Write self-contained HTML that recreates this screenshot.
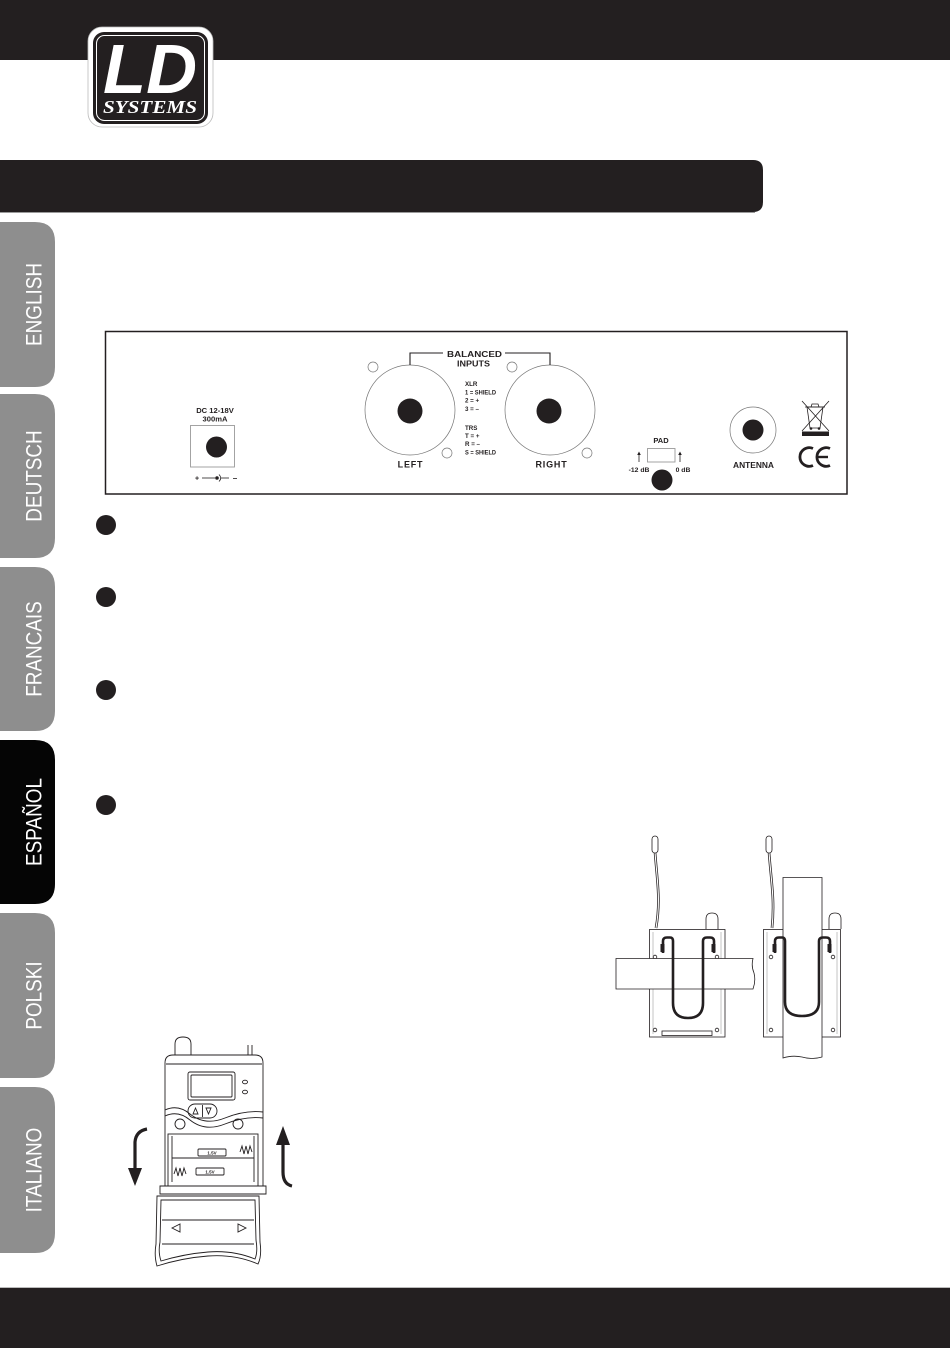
<!DOCTYPE html>
<html>
<head>
<meta charset="utf-8">
<style>
html,body{margin:0;padding:0;background:#fff;}
body{width:950px;height:1348px;overflow:hidden;position:relative;}
svg{position:absolute;left:0;top:0;}
</style>
</head>
<body>
<svg width="950" height="1348" viewBox="0 0 950 1348" xmlns="http://www.w3.org/2000/svg" font-family="Liberation Sans, Arial, sans-serif">
  <!-- top bar -->
  <rect x="0" y="0" width="950" height="60" fill="#231f20"/>
  <!-- logo -->
  <rect x="88" y="27" width="125" height="100" rx="14" fill="#fff" stroke="#bbb" stroke-width="0.8"/>
  <rect x="93" y="32" width="115" height="92" rx="11" fill="#231f20"/>
  <rect x="96.5" y="35.5" width="108" height="85" rx="8" fill="none" stroke="#fff" stroke-width="1"/>
  <text x="103" y="93" font-size="70" font-weight="bold" font-style="italic" fill="#fff" textLength="94" lengthAdjust="spacingAndGlyphs">LD</text>
  <text x="103" y="113" font-family="Liberation Serif, serif" font-size="18" font-weight="bold" font-style="italic" fill="#fff" textLength="94" lengthAdjust="spacingAndGlyphs">SYSTEMS</text>

  <!-- title bar -->
  <path d="M0,160 L753,160 Q763,160 763,170 L763,202 Q763,212 753,212 L0,212 Z" fill="#231f20"/>
  <line x1="0" y1="212.5" x2="755" y2="212.5" stroke="#9a9a9a" stroke-width="1"/>

  <!-- side tabs -->
  <g fill="#8e8e8e">
    <path d="M0,222 L35,222 Q55,222 55,242 L55,367 Q55,387 35,387 L0,387 Z"/>
    <path d="M0,394 L35,394 Q55,394 55,414 L55,538 Q55,558 35,558 L0,558 Z"/>
    <path d="M0,567 L35,567 Q55,567 55,587 L55,711 Q55,731 35,731 L0,731 Z"/>
    <path d="M0,913 L35,913 Q55,913 55,933 L55,1058 Q55,1078 35,1078 L0,1078 Z"/>
    <path d="M0,1087 L35,1087 Q55,1087 55,1107 L55,1233 Q55,1253 35,1253 L0,1253 Z"/>
  </g>
  <path d="M0,740 L35,740 Q55,740 55,760 L55,884 Q55,904 35,904 L0,904 Z" fill="#050505"/>
  <g fill="#fff" font-size="22" text-anchor="middle">
    <text transform="translate(41.5,304.5) rotate(-90) scale(0.86,1)">ENGLISH</text>
    <text transform="translate(41.5,476) rotate(-90) scale(0.86,1)">DEUTSCH</text>
    <text transform="translate(41.5,649) rotate(-90) scale(0.86,1)">FRANCAIS</text>
    <text transform="translate(41.5,822) rotate(-90) scale(0.86,1)">ESPAÑOL</text>
    <text transform="translate(41.5,995.5) rotate(-90) scale(0.86,1)">POLSKI</text>
    <text transform="translate(41.5,1170) rotate(-90) scale(0.86,1)">ITALIANO</text>
  </g>

  <!-- rear panel -->
  <rect x="105.5" y="331.5" width="741.5" height="162.5" fill="#fff" stroke="#231f20" stroke-width="1.5"/>
  <g fill="#231f20" font-weight="bold">
    <!-- DC -->
    <text x="215" y="413" font-size="7.6" text-anchor="middle">DC 12-18V</text>
    <text x="215" y="421.5" font-size="7.6" text-anchor="middle">300mA</text>
    <rect x="190.5" y="425.5" width="44" height="41.5" fill="none" stroke="#9a9a9a" stroke-width="0.9"/>
    <circle cx="216.5" cy="447" r="10.5"/>
    <text x="197" y="480.5" font-size="7" text-anchor="middle">+</text>
    <line x1="202" y1="478" x2="215" y2="478" stroke="#231f20" stroke-width="0.8"/>
    <circle cx="217" cy="478" r="1.8"/>
    <path d="M219,474.5 Q222.5,478 219,481.5" fill="none" stroke="#231f20" stroke-width="0.8"/>
    <line x1="221" y1="478" x2="229" y2="478" stroke="#231f20" stroke-width="0.8"/>
    <line x1="233" y1="478.5" x2="237" y2="478.5" stroke="#231f20" stroke-width="0.8"/>

    <!-- XLR left -->
    <circle cx="410" cy="410" r="45" fill="none" stroke="#777" stroke-width="0.7"/>
    <circle cx="410" cy="411" r="12.5"/>
    <circle cx="373" cy="367" r="5" fill="none" stroke="#777" stroke-width="0.7"/>
    <circle cx="447" cy="453" r="5" fill="none" stroke="#777" stroke-width="0.7"/>
    <text x="410.5" y="467.5" font-size="9" text-anchor="middle" letter-spacing="0.8">LEFT</text>
    <!-- XLR right -->
    <circle cx="550" cy="410" r="45" fill="none" stroke="#777" stroke-width="0.7"/>
    <circle cx="549" cy="411" r="12.5"/>
    <circle cx="512" cy="367" r="5" fill="none" stroke="#777" stroke-width="0.7"/>
    <circle cx="587" cy="453" r="5" fill="none" stroke="#777" stroke-width="0.7"/>
    <text x="551.5" y="467.5" font-size="9" text-anchor="middle" letter-spacing="0.8">RIGHT</text>

    <!-- bracket -->
    <path d="M410,365 L410,353 L443,353" fill="none" stroke="#231f20" stroke-width="1.1"/>
    <path d="M505,353 L550,353 L550,365" fill="none" stroke="#231f20" stroke-width="1.1"/>
    <text x="474.5" y="357" font-size="8.6" text-anchor="middle" textLength="55" lengthAdjust="spacingAndGlyphs">BALANCED</text>
    <text x="473.5" y="366.5" font-size="8.6" text-anchor="middle" textLength="33" lengthAdjust="spacingAndGlyphs">INPUTS</text>

    <!-- pinout -->
    <g font-size="6.2">
      <text x="465" y="386">XLR</text>
      <text x="465" y="394.5" textLength="31" lengthAdjust="spacingAndGlyphs">1 = SHIELD</text>
      <text x="465" y="402.5">2 = +</text>
      <text x="465" y="411">3 = –</text>
      <text x="465" y="430">TRS</text>
      <text x="465" y="438">T = +</text>
      <text x="465" y="446">R = –</text>
      <text x="465" y="454.5" textLength="31" lengthAdjust="spacingAndGlyphs">S = SHIELD</text>
    </g>

    <!-- PAD -->
    <text x="661" y="443" font-size="7.5" text-anchor="middle">PAD</text>
    <rect x="647.5" y="448.5" width="27.5" height="13.5" fill="none" stroke="#9a9a9a" stroke-width="0.9"/>
    <line x1="639" y1="462" x2="639" y2="454" stroke="#231f20" stroke-width="0.8"/>
    <path d="M637.2,455 L639,451.5 L640.8,455 Z"/>
    <line x1="680" y1="462" x2="680" y2="454" stroke="#231f20" stroke-width="0.8"/>
    <path d="M678.2,455 L680,451.5 L681.8,455 Z"/>
    <text x="639" y="472" font-size="6.8" text-anchor="middle">-12 dB</text>
    <text x="683" y="472" font-size="6.8" text-anchor="middle">0 dB</text>
    <circle cx="662" cy="480" r="10.5"/>

    <!-- antenna -->
    <circle cx="753" cy="430" r="23" fill="none" stroke="#777" stroke-width="0.7"/>
    <circle cx="753" cy="430" r="10.5"/>
    <text x="753.5" y="468" font-size="8.4" text-anchor="middle">ANTENNA</text>

    <!-- WEEE -->
    <g stroke="#231f20" stroke-width="0.8" fill="none">
      <path d="M807,407 L823,407 L820,428 L810,428 Z"/>
      <line x1="805" y1="407" x2="825" y2="407"/>
      <path d="M811,407 L812,404 L818,404 L819,407"/>
      <line x1="802" y1="401" x2="829" y2="431"/>
      <line x1="829" y1="401" x2="802" y2="431"/>
    </g>
    <circle cx="811" cy="428.5" r="1.3"/>
    <circle cx="819" cy="428.5" r="1.3"/>
    <rect x="802" y="431.5" width="27" height="4.5"/>

    <!-- CE -->
    <path d="M813,448.5 A9.3,9.3 0 1 0 813,465.5" fill="none" stroke="#231f20" stroke-width="2.8"/>
    <path d="M830,448.5 A9.3,9.3 0 1 0 830,465.5" fill="none" stroke="#231f20" stroke-width="2.8"/>
    <line x1="818" y1="457" x2="828" y2="457" stroke="#231f20" stroke-width="2.4"/>
  </g>

  <!-- bullets -->
  <g fill="#231f20">
    <circle cx="106" cy="525" r="10"/>
    <circle cx="106" cy="597" r="10"/>
    <circle cx="106" cy="690" r="10"/>
    <circle cx="106" cy="805" r="10"/>
  </g>

  <!-- belt clip drawing: left device -->
  <g stroke="#231f20" stroke-width="0.8" fill="none">
    <path d="M655,852 C657,880 661,900 656,928" stroke-width="2.6"/>
    <path d="M655,852 C657,880 661,900 656,928" stroke="#fff" stroke-width="1.1"/>
    <rect x="652" y="836" width="6" height="17" rx="3" fill="#fff"/>
    <path d="M706,929 L706,919 Q706,913 712,913 Q718,913 718,919 L718,929" fill="#fff"/>
    <rect x="649.5" y="929.5" width="75.5" height="107.5" fill="#fff"/>
    <line x1="653" y1="932" x2="653" y2="1034" stroke="#888" stroke-width="0.5"/>
    <line x1="721" y1="932" x2="721" y2="1034" stroke="#888" stroke-width="0.5"/>
    <rect x="662" y="1031" width="50" height="4.5"/>
    <circle cx="655" cy="957" r="1.8"/>
    <circle cx="717" cy="957" r="1.8"/>
    <circle cx="655" cy="1030" r="1.8"/>
    <circle cx="717" cy="1030" r="1.8"/>
    <path d="M616,958.5 L753,958.5 Q751,966 754,973 Q756,981 753,989 L616,989 Z" fill="#fff"/>
    <path d="M663,953 L663,941 Q663,937.5 667,937.5 L670,937.5 Q673,937.5 673,941 L673,1003 Q673,1018 688,1018 Q703,1018 703,1003 L703,941 Q703,937.5 707,937.5 L710,937.5 Q714,937.5 714,941 L714,953" stroke-width="2.6"/>
  </g>
  <g fill="#231f20">
    <rect x="660.5" y="944" width="4" height="8"/>
    <rect x="711.5" y="944" width="4" height="8"/>
  </g>

  <!-- belt clip drawing: right device -->
  <g stroke="#231f20" stroke-width="0.8" fill="none">
    <path d="M769,852 C771,880 775,900 772,928" stroke-width="2.6"/>
    <path d="M769,852 C771,880 775,900 772,928" stroke="#fff" stroke-width="1.1"/>
    <rect x="766" y="836" width="6" height="17" rx="3" fill="#fff"/>
    <path d="M829,929 L829,919 Q829,913 835,913 Q841,913 841,919 L841,929" fill="#fff"/>
    <rect x="763.5" y="929.5" width="77" height="107.5" fill="#fff"/>
    <line x1="767" y1="932" x2="767" y2="1034" stroke="#888" stroke-width="0.5"/>
    <line x1="837" y1="932" x2="837" y2="1034" stroke="#888" stroke-width="0.5"/>
    <circle cx="771" cy="957" r="1.8"/>
    <circle cx="833" cy="957" r="1.8"/>
    <circle cx="771" cy="1030" r="1.8"/>
    <circle cx="833" cy="1030" r="1.8"/>
    <path d="M783,877.5 L822,877.5 L822,1057 Q812,1060 802,1057 Q792,1055 783,1058 Z" fill="#fff"/>
    <path d="M775,953 L775,941 Q775,937.5 779,937.5 L782,937.5 Q785,937.5 785,941 L785,1002 Q785,1016 802,1016 Q819,1016 819,1002 L819,941 Q819,937.5 823,937.5 L826,937.5 Q830,937.5 830,941 L830,953" stroke-width="2.6"/>
  </g>
  <g fill="#231f20">
    <rect x="772.5" y="944" width="4" height="8"/>
    <rect x="827.5" y="944" width="4" height="8"/>
  </g>

  <!-- receiver with battery compartment -->
  <g stroke="#231f20" stroke-width="0.9" fill="none">
    <path d="M175,1058 L175,1044 Q175,1037 183,1037 Q191,1037 191,1044 L191,1058" fill="#fff"/>
    <line x1="248" y1="1045" x2="248" y2="1057"/>
    <line x1="252" y1="1045" x2="252" y2="1057"/>
    <path d="M165,1192 L165,1063 Q165,1055 173,1055 L255,1055 Q263,1055 263,1063 L263,1192" fill="#fff"/>
    <line x1="166" y1="1064" x2="262" y2="1064"/>
    <rect x="188" y="1072" width="47" height="28" rx="2"/>
    <rect x="191" y="1075" width="41" height="22" rx="1"/>
    <ellipse cx="245" cy="1082" rx="2.5" ry="1.8"/>
    <ellipse cx="245" cy="1092" rx="2.5" ry="1.8"/>
    <rect x="188" y="1104" width="29" height="14" rx="7"/>
    <line x1="202.5" y1="1105" x2="202.5" y2="1117"/>
    <path d="M193,1114 L195.5,1108 L198,1114 Z"/>
    <path d="M206,1108 L211,1108 L208.5,1114 Z"/>
    <path d="M165,1110 Q178,1104 190,1114 Q205,1126 225,1118 Q245,1110 263,1112"/>
    <path d="M165,1116 Q178,1110 190,1120 Q205,1132 225,1124 Q245,1116 263,1118"/>
    <circle cx="180" cy="1124" r="5"/>
    <circle cx="238" cy="1124" r="5"/>
    <rect x="168" y="1134" width="90" height="52"/>
    <path d="M172,1136 L172,1182 M254,1136 L254,1182"/>
    <line x1="172" y1="1158" x2="254" y2="1158"/>
    <rect x="198" y="1149" width="28" height="7" rx="1"/>
    <rect x="196" y="1168" width="28" height="7" rx="1"/>
    <path d="M240,1152 l2,-6 l2,8 l2,-8 l2,8 l2,-8 l2,6"/>
    <path d="M174,1174 l2,-6 l2,8 l2,-8 l2,8 l2,-8 l2,6"/>
    <path d="M160,1186 L266,1186 L266,1194 L160,1194 Z" fill="#fff"/>
    <path d="M157,1196 L259,1196 L260,1242 Q262,1256 258,1264 Q235,1254 208,1256 Q182,1258 157,1266 Q154,1256 156,1244 Z" fill="#fff"/>
    <path d="M161,1200 L255,1200 L256,1240 Q258,1252 255,1259 Q233,1250 208,1252 Q184,1254 161,1261 Q158,1252 160,1242 Z"/>
    <line x1="162" y1="1220" x2="254" y2="1220"/>
    <line x1="162" y1="1244" x2="254" y2="1244"/>
    <path d="M172,1228 L180,1224 L180,1232 Z"/>
    <path d="M246,1228 L238,1224 L238,1232 Z"/>
  </g>
  <g fill="#231f20" font-size="4.5" font-weight="bold">
    <text x="212" y="1154.5" text-anchor="middle">1.5V</text>
    <text x="210" y="1173.5" text-anchor="middle">1.5V</text>
  </g>
  <!-- arrows -->
  <g fill="#231f20" stroke="#231f20">
    <path d="M147,1129 Q136,1131 135,1142 L135,1170" fill="none" stroke-width="3.2"/>
    <path d="M128,1168 L142,1168 L135,1186 Z" stroke="none"/>
    <path d="M283,1143 L283,1172 Q283,1184 292,1186" fill="none" stroke-width="3.2"/>
    <path d="M276,1145 L290,1145 L283,1126 Z" stroke="none"/>
  </g>

  <!-- bottom bar -->
  <line x1="0" y1="1287.5" x2="950" y2="1287.5" stroke="#bbb" stroke-width="1"/>
  <rect x="0" y="1288" width="950" height="60" fill="#231f20"/>
</svg>
</body>
</html>
